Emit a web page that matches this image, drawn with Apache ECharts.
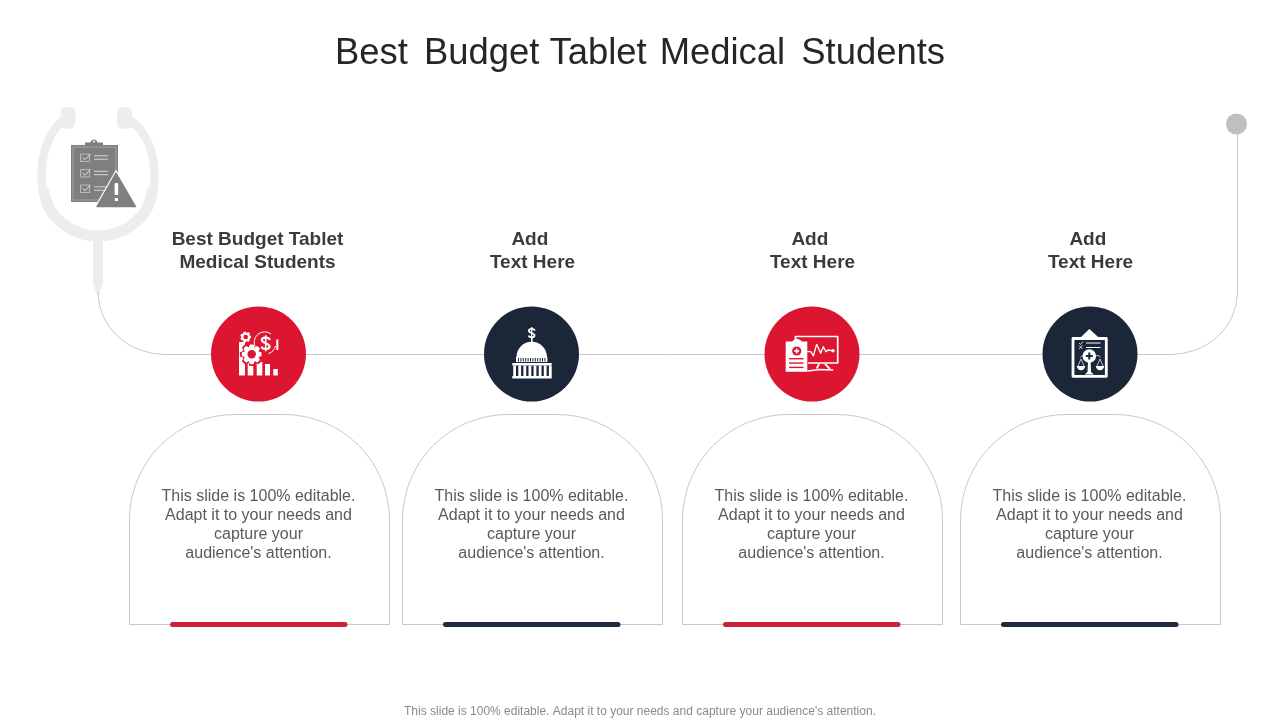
<!DOCTYPE html>
<html>
<head>
<meta charset="utf-8">
<style>html,body{margin:0;background:#fff}#main{width:1280px;height:720px}</style>
<script src="https://cdn.jsdelivr.net/npm/echarts@6/dist/echarts.min.js"></script>
</head>
<body>
<div id="main"></div>
<script>
// the hair spaces only widen the gaps between words, as on the original slide
const slideTitle = 'Best \u200A\u200ABudget Tablet \u200AMedical \u200A\u200AStudents'
const footNote = "This slide is 100% editable. Adapt it to your needs and capture your audience's attention."
const cardTitles = ['Best Budget Tablet\nMedical Students', 'Add \nText Here', 'Add \nText Here', 'Add \nText Here']
const cardTexts = [
  "This slide is 100% editable.\nAdapt it to your needs and\ncapture your\naudience's attention.",
  "This slide is 100% editable.\nAdapt it to your needs and\ncapture your\naudience's attention.",
  "This slide is 100% editable.\nAdapt it to your needs and\ncapture your\naudience's attention.",
  "This slide is 100% editable.\nAdapt it to your needs and\ncapture your\naudience's attention."
]

const RED = '#dc1531'
const NAVY = '#1b2639'
const WHITE = '#fff'
const FONT = '"Liberation Sans", Arial, sans-serif'

// small drawing helpers, everything is handed to one custom series at the end
let els = []
function path(d, fill, stroke, lineWidth, cap) {
  els.push({ type: 'path', shape: { pathData: d }, style: { fill: fill || 'none', stroke: stroke || 'none', lineWidth: lineWidth || 1, lineCap: cap || 'butt', lineJoin: 'round' } })
}
function rect(x, y, w, h, fill, r) {
  els.push({ type: 'rect', shape: { x, y, width: w, height: h, r: r || 0 }, style: { fill } })
}
function circle(cx, cy, r, fill) {
  els.push({ type: 'circle', shape: { cx, cy, r }, style: { fill } })
}
function text(x, y, str, font, fill, lineHeight) {
  els.push({ type: 'text', x, y, style: { text: str, font, fill, align: 'center', verticalAlign: 'top', lineHeight } })
}
function gear(cx, cy, r, teeth, fill, hole) {
  let d = ''
  for (let i = 0; i < teeth; i++) {
    let a = i / teeth * Math.PI * 2, s = Math.PI / teeth
    let pts = [[a - s * 0.95, r * 0.76], [a - s * 0.45, r], [a + s * 0.45, r], [a + s * 0.95, r * 0.76]]
    pts.forEach((p, j) => {
      let px = cx + Math.cos(p[0]) * p[1], py = cy + Math.sin(p[0]) * p[1]
      d += (i === 0 && j === 0 ? 'M' : 'L') + px.toFixed(2) + ' ' + py.toFixed(2)
    })
  }
  path(d + 'Z', fill)
  circle(cx, cy, r * 0.42, hole)
}
function dollar(cx, cy, h, color, lw) {
  let w = h * 0.3, q = h * 0.25
  path(`M${cx + w} ${cy - q}C${cx + w} ${cy - q * 2} ${cx - w} ${cy - q * 2} ${cx - w} ${cy - q}C${cx - w} ${cy + q * 0.1} ${cx + w} ${cy - q * 0.1} ${cx + w} ${cy + q}C${cx + w} ${cy + q * 2} ${cx - w} ${cy + q * 2} ${cx - w} ${cy + q}`, null, color, lw)
  path(`M${cx} ${cy - h * 0.62}V${cy + h * 0.62}`, null, color, lw * 0.7)
}

// stethoscope
function stethoscope() {
  const G = '#ededed'
  path('M68 116C48 130 41 155 41.5 178C42 210 68 237 98 237C128 237 154 210 154.5 178C155 155 148 130 124 116', null, G, 8.5)
  path('M44 192C48 218 72 236 98 236C124 236 149 218 152 192', null, G, 11, 'round')
  rect(60.5, 107, 15, 22, G, 6)
  rect(117, 107, 15, 22, G, 6)
  path('M93 238H103V283L99 295H97L93 283Z', G)
  // tube from the chest piece round to the bell on the right
  path('M98 292A67 62.5 0 0 0 165 354.5H1170A67 62.5 0 0 0 1237.5 292V124', null, '#c9c9c9', 1)
  circle(1236.5, 124, 10.5, '#bfbfbf')
}

function warningClipboard() {
  const G = '#7f7f7f'
  rect(71, 145, 47, 57, G)
  path('M73 147H116V200H73Z', null, '#bdbdbd', 0.6)
  path('M85 145.5V142.5H90.5C91 138.5 97 138.5 97.5 142.5H103V145.5Z', G)
  circle(94, 141.5, 1, WHITE)
  ;[157.5, 173, 188.5].forEach(y => {
    path(`M80.5 ${y - 3.5}H89.5V${y + 4}H80.5Z`, null, '#d6d6d6', 0.7)
    path(`M82.5 ${y}L85 ${y + 2.2}L90.5 ${y - 3.5}`, null, '#ececec', 0.9)
    path(`M94 ${y - 1.7}H108M94 ${y + 1.7}H108`, null, '#e2e2e2', 0.9)
  })
  path('M116 169.5L138 208H94Z', WHITE)
  path('M116 173L135.5 206.5H97Z', G, G, 1.4)
  rect(114.6, 183, 3.6, 12, WHITE, 1)
  rect(114.8, 198, 3.2, 3, WHITE)
}

function iconBudget(bg) {
  rect(239, 342, 6, 33.5, WHITE)
  rect(247.7, 362, 5.6, 13.5, WHITE)
  rect(256.7, 362, 5.6, 13.5, WHITE)
  rect(265, 364, 5, 11.5, WHITE)
  rect(273.3, 369, 4.5, 6.5, WHITE)
  gear(251.7, 354.3, 12, 8, bg, bg)
  gear(251.7, 354.3, 10, 8, WHITE, bg)
  gear(245.7, 337, 5.5, 7, WHITE, bg)
  path('M256.5 349A10.5 10.5 0 0 1 271 334', null, WHITE, 1)
  path('M275.5 346A10.5 10.5 0 0 1 268.5 353.5', null, WHITE, 1)
  rect(276.3, 339.5, 2, 10.5, WHITE)
  dollar(265.7, 343.3, 13, WHITE, 2.2)
}

function iconCapitol(bg) {
  dollar(531.7, 333, 9.5, WHITE, 1.8)
  rect(531, 338, 1.6, 5, WHITE)
  path('M516.5 357A15.2 15.2 0 0 1 546.9 357Z', WHITE)
  rect(516, 357, 31.4, 5, WHITE)
  for (let i = 0; i < 12; i++) rect(518 + i * 2.4, 358, 1, 3.6, bg)
  rect(512.3, 363, 39.4, 2.6, WHITE)
  for (let i = 0; i < 8; i++) rect(513.2 + i * 5.1, 365.6, 2.8, 10.4, WHITE)
  rect(512.3, 376, 39.4, 2.4, WHITE)
}

function iconMonitor(bg) {
  path('M795.5 340V336.5H837.7V363H808', null, WHITE, 1.7)
  path('M807.3 351.7H811L813.3 356L816.7 344.3L820.7 353.3L823.3 346.7L826 351.7L828 350L832 350.7', null, WHITE, 1.3)
  circle(833, 350.7, 1.7, WHITE)
  path('M819 364L816.7 368.5M825 364L830 369', null, WHITE, 1.8)
  path('M807.3 371L820 369.5L833.3 370', null, WHITE, 1.7)
  path('M785.7 341.5H792.5C793 338 801 338 801.5 341.5H807.3V371.7H785.7Z', WHITE)
  circle(796.7, 351, 4.6, bg)
  rect(794.2, 350.2, 5, 1.6, WHITE)
  rect(795.9, 348.5, 1.6, 5, WHITE)
  ;[358, 362.4, 366.7].forEach(y => rect(789, y, 14.5, 1.4, bg))
}

function iconScales(bg) {
  path('M1073 338.5H1106.3V376.3H1073Z', null, WHITE, 2.8)
  path('M1080 338L1089.3 329L1099.3 338V340H1080Z', WHITE)
  path('M1086 343H1100.5M1086 347.5H1100.5', null, WHITE, 1)
  path('M1079 343L1080.5 344.5L1083 341.5M1079 345.5L1082.5 349M1082.5 345.5L1079 349', null, WHITE, 0.8)
  circle(1089.3, 356, 6.8, WHITE)
  rect(1085.8, 355, 7, 2, bg)
  rect(1088.3, 352.5, 2, 7, bg)
  path('M1088 362H1090.6L1091 372L1094 374.5H1084.5L1087.5 372Z', WHITE)
  path('M1081 359L1084 366M1081 359L1078 366M1080.5 357.5C1081.5 355.5 1083 355 1084 356', null, WHITE, 0.7)
  path('M1100 359L1103 366M1100 359L1097 366M1100.5 357.5C1099.5 355.5 1097.5 355 1095.5 356', null, WHITE, 0.7)
  path('M1076.8 366H1085.2A4.2 4.2 0 0 1 1076.8 366Z', WHITE)
  path('M1095.8 366H1104.2A4.2 4.2 0 0 1 1095.8 366Z', WHITE)
}

const cardLeft = [129.5, 402.5, 682.5, 960.5]
const nodeX = [258.5, 531.5, 812, 1090]
const icons = [iconBudget, iconCapitol, iconMonitor, iconScales]

stethoscope()
warningClipboard()

cardTitles.forEach((t, i) => {
  const x = cardLeft[i], mid = x + 130
  const dark = i % 2 === 1
  const bg = dark ? NAVY : RED
  // arched card
  path(`M${x} 624.5V520A105.5 105.5 0 0 1 ${x + 105.5} 414.5H${x + 154.5}A105.5 105.5 0 0 1 ${x + 260} 520V624.5Z`, WHITE, '#c8c8c8', 1)
  rect(mid - 89.5, 622, 177.5, 5, dark ? '#1f2a3c' : '#cc2039', 2.5)
  circle(nodeX[i], 354, 47.5, bg)
  icons[i](bg)
  text(i === 0 ? mid - 2 : mid, 228, t, 'bold 19px ' + FONT, '#3b3b3b', 23)
  text(mid - 1, 487, cardTexts[i], '16px ' + FONT, '#5a5a5a', 19)
})

text(640, 705, footNote, '12px ' + FONT, '#8a8a8a', 14)

let myChart = echarts.init(document.getElementById('main'), null, { renderer: 'canvas' })
myChart.setOption({
  animation: false,
  backgroundColor: '#fff',
  title: {
    text: slideTitle,
    left: 'center',
    top: 31,
    textStyle: { color: '#262626', fontFamily: FONT, fontWeight: 'normal', fontSize: 36.4 }
  },
  series: [{
    type: 'custom',
    coordinateSystem: 'none',
    silent: true,
    data: [0],
    renderItem: () => ({ type: 'group', children: els })
  }]
})
</script>
</body>
</html>
